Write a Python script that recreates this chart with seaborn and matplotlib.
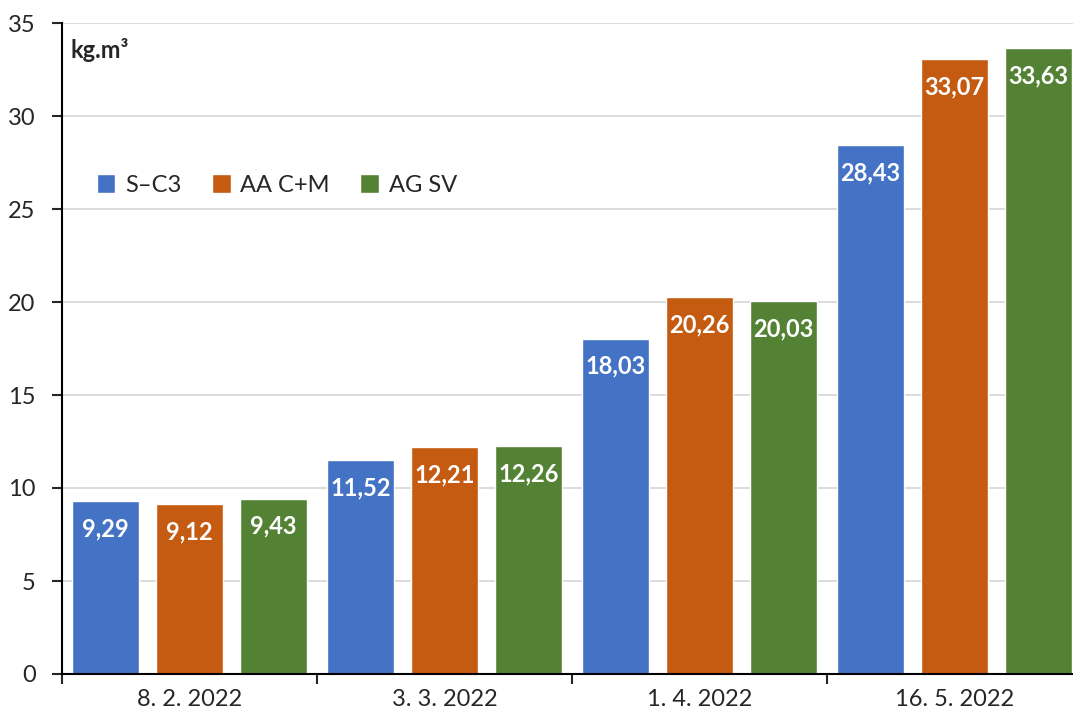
import numpy as np
import pandas as pd
import matplotlib
matplotlib.use("Agg")
import matplotlib.pyplot as plt
import seaborn as sns

# data
dates = ["8. 2. 2022", "3. 3. 2022", "1. 4. 2022", "16. 5. 2022"]
series = ["S\u2013C3", "AA C+M", "AG SV"]
s_c3 = [9.29, 11.52, 18.03, 28.43]
aa_cm = [9.12, 12.21, 20.26, 33.07]
ag_sv = [9.43, 12.26, 20.03, 33.63]
colors = ["#4472C4", "#C55A11", "#548235"]

df = pd.DataFrame({
    "date": dates * 3,
    "series": [s for s in series for _ in dates],
    "value": s_c3 + aa_cm + ag_sv,
})

sns.set_style("white")
plt.rcParams["font.family"] = ["Lato", "DejaVu Sans"]

fig = plt.figure(figsize=(10.73, 7.18), dpi=100)
ax = fig.add_axes([62 / 1073, 44 / 718, 1020 / 1073, 651 / 718])

sns.barplot(data=df, x="date", y="value", hue="series", order=dates, hue_order=series,
            palette=colors, width=0.99, gap=0.21, saturation=1, ax=ax, legend=True)

# value labels inside bars
for cont in ax.containers:
    for bar in cont:
        h = bar.get_height()
        ax.annotate(f"{h:.2f}".replace(".", ","), (bar.get_x() + bar.get_width() / 2, h),
                    xytext=(0, -20), textcoords="offset points", ha="center", va="center",
                    color="white", fontsize=17, fontweight="bold")

ax.set_ylim(0, 35)
ax.set_xlim(-0.5, 3.5)
ax.set_yticks(np.arange(0, 36, 5))
ax.yaxis.grid(True, color="#d9d9d9", lw=1.3)
ax.set_axisbelow(True)
ax.set_xlabel("")
ax.set_ylabel("")

for side in ["top", "right"]:
    ax.spines[side].set_visible(False)
for side in ["left", "bottom"]:
    ax.spines[side].set_color("black")
    ax.spines[side].set_linewidth(1.5)

ax.tick_params(axis="y", which="major", length=7, width=1.5, direction="out", left=True,
               labelsize=17, pad=12)
ax.tick_params(axis="x", which="major", length=0, labelsize=17, pad=11)
ax.set_xticks(np.arange(-0.5, 4, 1), minor=True)
ax.tick_params(axis="x", which="minor", length=7, width=1.5, direction="out", bottom=True)

ax.text(0.008, 0.958, "kg.m\u00b3", transform=ax.transAxes, fontsize=17, fontweight="bold",
        ha="left", va="center")

ax.legend(loc="upper left", bbox_to_anchor=(0.013, 0.80), ncol=3, frameon=False,
          fontsize=17, handlelength=0.8, handleheight=0.8, handletextpad=0.4,
          columnspacing=1.3)

fig.savefig("out.png", dpi=100)
